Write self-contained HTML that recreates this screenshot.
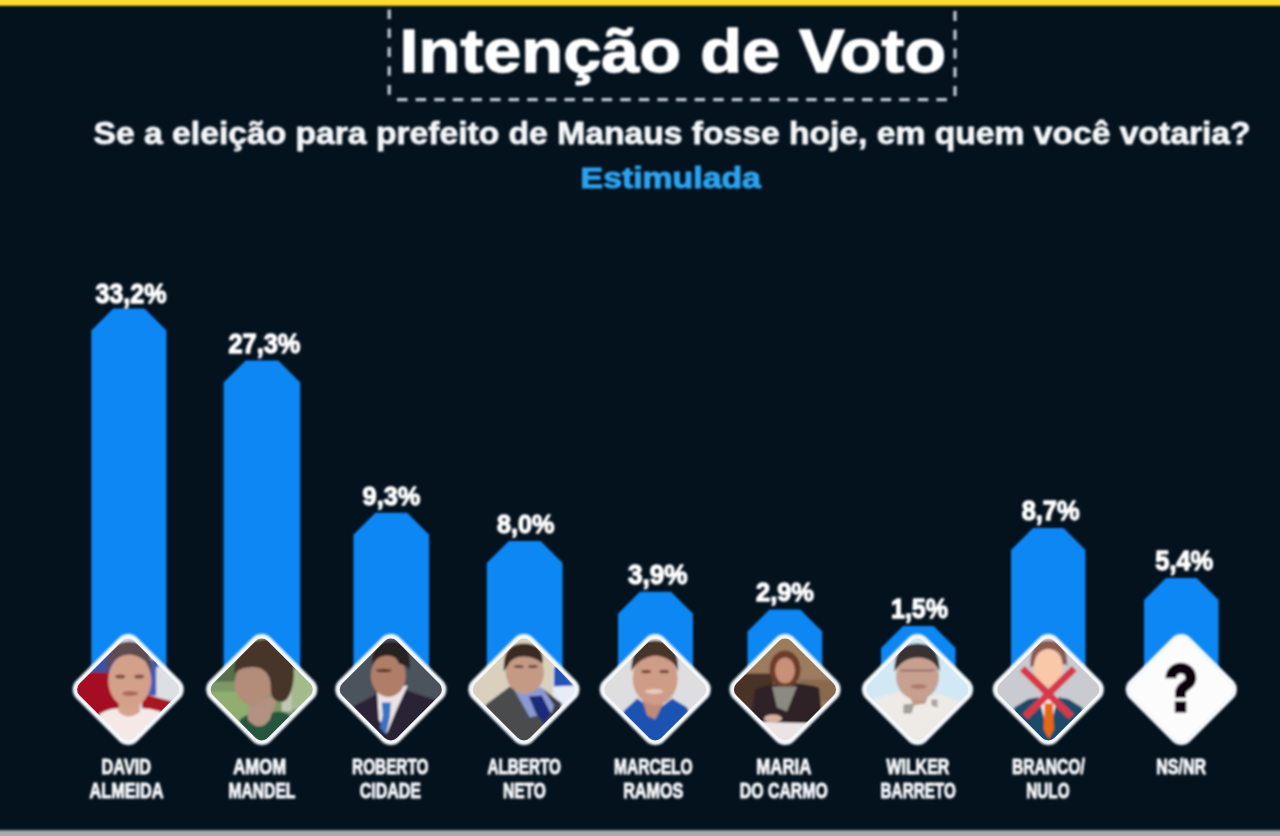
<!DOCTYPE html>
<html><head><meta charset="utf-8"><title>Intenção de Voto</title>
<style>
html,body{margin:0;padding:0;background:#04121e;}
body{width:1280px;height:836px;overflow:hidden;font-family:"Liberation Sans",sans-serif;}
svg{display:block}
text{font-family:"Liberation Sans",sans-serif;font-weight:bold}
</style></head><body>
<svg width="1280" height="836" viewBox="0 0 1280 836">
<defs>
<filter id="soft" x="-5%" y="-5%" width="110%" height="110%"><feGaussianBlur stdDeviation="0.85"/></filter>
<filter id="ph" x="-10%" y="-10%" width="120%" height="120%"><feGaussianBlur stdDeviation="1.3"/></filter>
<clipPath id="dia"><rect x="-38.6" y="-38.6" width="77.2" height="77.2" rx="8.5" transform="rotate(45)"/></clipPath>
</defs>
<rect width="1280" height="836" fill="#04121e"/>
<g filter="url(#soft)">

<rect x="-20" y="-20" width="1320" height="25.8" fill="#fadb2e"/>
<rect x="-20" y="830.2" width="1320" height="30" fill="#a9aaad"/>
<g fill="none" stroke="#c3cbd3" stroke-width="3.2"><path d="M389.2 9.5 V96" stroke-dasharray="9.6 9.3"/><path d="M955 11 V97.5" stroke-dasharray="10 8.75"/><path d="M397 99.7 H947" stroke-dasharray="10.5 8.1"/></g>
<text x="399.6" y="71.8" font-size="60.4" fill="#fff" stroke="#fff" stroke-width="1.3" stroke-linejoin="round" textLength="546.5" lengthAdjust="spacingAndGlyphs">Intenção de Voto</text>
<text x="93.6" y="144" font-size="32" fill="#f4f6f8" stroke="#f4f6f8" stroke-width="0.9" stroke-linejoin="round" textLength="1157" lengthAdjust="spacingAndGlyphs">Se a eleição para prefeito de Manaus fosse hoje, em quem você votaria?</text>
<text x="580.6" y="187.7" font-size="30.4" fill="#2ba3ef" stroke="#2ba3ef" stroke-width="1.1" stroke-linejoin="round" textLength="180.3" lengthAdjust="spacingAndGlyphs">Estimulada</text>
<path d="M91.3 700 V330.6 L113.3 308.6 H144.5 L166.5 330.6 V700 Z" fill="#0b87f4"/>
<text x="95.4" y="302.5" font-size="27.6" fill="#fff" stroke="#fff" stroke-width="1.3" stroke-linejoin="round" textLength="71.1" lengthAdjust="spacingAndGlyphs">33,2%</text>
<path d="M223.6 700 V382.4 L245.6 360.4 H278.2 L300.2 382.4 V700 Z" fill="#0b87f4"/>
<text x="228.4" y="353.4" font-size="27.0" fill="#fff" stroke="#fff" stroke-width="1.3" stroke-linejoin="round" textLength="72.0" lengthAdjust="spacingAndGlyphs">27,3%</text>
<path d="M353.4 700 V534.7 L375.4 512.7 H407.1 L429.1 534.7 V700 Z" fill="#0b87f4"/>
<text x="362.5" y="505.1" font-size="26.6" fill="#fff" stroke="#fff" stroke-width="1.3" stroke-linejoin="round" textLength="57.9" lengthAdjust="spacingAndGlyphs">9,3%</text>
<path d="M486.8 700 V563.0 L508.8 541.0 H540.6 L562.6 563.0 V700 Z" fill="#0b87f4"/>
<text x="497.0" y="533.2" font-size="26.6" fill="#fff" stroke="#fff" stroke-width="1.3" stroke-linejoin="round" textLength="57.5" lengthAdjust="spacingAndGlyphs">8,0%</text>
<path d="M618.0 700 V613.8 L640.0 591.8 H671.0 L693.0 613.8 V700 Z" fill="#0b87f4"/>
<text x="628.0" y="584.2" font-size="26.8" fill="#fff" stroke="#fff" stroke-width="1.3" stroke-linejoin="round" textLength="59.5" lengthAdjust="spacingAndGlyphs">3,9%</text>
<path d="M747.5 700 V631.5 L769.5 609.5 H800.2 L822.2 631.5 V700 Z" fill="#0b87f4"/>
<text x="756.0" y="600.6" font-size="26.6" fill="#fff" stroke="#fff" stroke-width="1.3" stroke-linejoin="round" textLength="58.0" lengthAdjust="spacingAndGlyphs">2,9%</text>
<path d="M881.0 700 V648.0 L903.0 626.0 H933.6 L955.6 648.0 V700 Z" fill="#0b87f4"/>
<text x="891.0" y="617.9" font-size="26.8" fill="#fff" stroke="#fff" stroke-width="1.3" stroke-linejoin="round" textLength="57.0" lengthAdjust="spacingAndGlyphs">1,5%</text>
<path d="M1011.0 700 V550.0 L1033.0 528.0 H1063.5 L1085.5 550.0 V700 Z" fill="#0b87f4"/>
<text x="1021.7" y="520.1" font-size="26.8" fill="#fff" stroke="#fff" stroke-width="1.3" stroke-linejoin="round" textLength="57.9" lengthAdjust="spacingAndGlyphs">8,7%</text>
<path d="M1144.0 700 V600.0 L1166.0 578.0 H1196.6 L1218.6 600.0 V700 Z" fill="#0b87f4"/>
<text x="1155.3" y="570.1" font-size="26.8" fill="#fff" stroke="#fff" stroke-width="1.3" stroke-linejoin="round" textLength="57.9" lengthAdjust="spacingAndGlyphs">5,4%</text>
<text x="101.6" y="773.8" font-size="22.2" fill="#f5f7f9" stroke="#f5f7f9" stroke-width="1.1" stroke-linejoin="round" textLength="49.4" lengthAdjust="spacingAndGlyphs">DAVID</text>
<text x="89.5" y="797.7" font-size="22.2" fill="#f5f7f9" stroke="#f5f7f9" stroke-width="1.1" stroke-linejoin="round" textLength="74.1" lengthAdjust="spacingAndGlyphs">ALMEIDA</text>
<text x="233.2" y="773.8" font-size="22.2" fill="#f5f7f9" stroke="#f5f7f9" stroke-width="1.1" stroke-linejoin="round" textLength="52.9" lengthAdjust="spacingAndGlyphs">AMOM</text>
<text x="228.4" y="797.7" font-size="22.2" fill="#f5f7f9" stroke="#f5f7f9" stroke-width="1.1" stroke-linejoin="round" textLength="67.0" lengthAdjust="spacingAndGlyphs">MANDEL</text>
<text x="352.1" y="773.8" font-size="22.2" fill="#f5f7f9" stroke="#f5f7f9" stroke-width="1.1" stroke-linejoin="round" textLength="76.3" lengthAdjust="spacingAndGlyphs">ROBERTO</text>
<text x="359.7" y="797.7" font-size="22.2" fill="#f5f7f9" stroke="#f5f7f9" stroke-width="1.1" stroke-linejoin="round" textLength="61.2" lengthAdjust="spacingAndGlyphs">CIDADE</text>
<text x="487.4" y="773.8" font-size="22.2" fill="#f5f7f9" stroke="#f5f7f9" stroke-width="1.1" stroke-linejoin="round" textLength="73.6" lengthAdjust="spacingAndGlyphs">ALBERTO</text>
<text x="503.0" y="797.7" font-size="22.2" fill="#f5f7f9" stroke="#f5f7f9" stroke-width="1.1" stroke-linejoin="round" textLength="42.9" lengthAdjust="spacingAndGlyphs">NETO</text>
<text x="614.0" y="773.8" font-size="22.2" fill="#f5f7f9" stroke="#f5f7f9" stroke-width="1.1" stroke-linejoin="round" textLength="78.7" lengthAdjust="spacingAndGlyphs">MARCELO</text>
<text x="623.2" y="797.7" font-size="22.2" fill="#f5f7f9" stroke="#f5f7f9" stroke-width="1.1" stroke-linejoin="round" textLength="60.2" lengthAdjust="spacingAndGlyphs">RAMOS</text>
<text x="756.3" y="773.8" font-size="22.2" fill="#f5f7f9" stroke="#f5f7f9" stroke-width="1.1" stroke-linejoin="round" textLength="55.0" lengthAdjust="spacingAndGlyphs">MARIA</text>
<text x="739.8" y="797.7" font-size="22.2" fill="#f5f7f9" stroke="#f5f7f9" stroke-width="1.1" stroke-linejoin="round" textLength="88.0" lengthAdjust="spacingAndGlyphs">DO CARMO</text>
<text x="886.4" y="773.8" font-size="22.2" fill="#f5f7f9" stroke="#f5f7f9" stroke-width="1.1" stroke-linejoin="round" textLength="62.9" lengthAdjust="spacingAndGlyphs">WILKER</text>
<text x="880.6" y="797.7" font-size="22.2" fill="#f5f7f9" stroke="#f5f7f9" stroke-width="1.1" stroke-linejoin="round" textLength="75.2" lengthAdjust="spacingAndGlyphs">BARRETO</text>
<text x="1011.9" y="773.8" font-size="22.2" fill="#f5f7f9" stroke="#f5f7f9" stroke-width="1.1" stroke-linejoin="round" textLength="72.9" lengthAdjust="spacingAndGlyphs">BRANCO/</text>
<text x="1026.3" y="797.7" font-size="22.2" fill="#f5f7f9" stroke="#f5f7f9" stroke-width="1.1" stroke-linejoin="round" textLength="43.3" lengthAdjust="spacingAndGlyphs">NULO</text>
<text x="1156.3" y="773.8" font-size="22.2" fill="#f5f7f9" stroke="#f5f7f9" stroke-width="1.1" stroke-linejoin="round" textLength="49.8" lengthAdjust="spacingAndGlyphs">NS/NR</text>
</g>
<g transform="translate(128.2 689.5)">
<rect x="-43" y="-43" width="86" height="86" rx="12.5" transform="rotate(45)" fill="#f4f8fb" filter="url(#soft)"/>
<g clip-path="url(#dia)"><g filter="url(#ph)"><rect x="-60" y="-60" width="120" height="120" fill="#cfd6e2"/>
<rect x="-60" y="-40" width="60" height="26" fill="#3c4fa6"/>
<rect x="-60" y="-17" width="60" height="45" fill="#a40f20"/>
<rect x="18" y="-30" width="12" height="36" fill="#4a5cb4"/>
<rect x="28" y="-22" width="30" height="32" fill="#dcdfe4"/>
<path d="M14 4 L44 12 L44 24 L14 24Z" fill="#a81424"/>
<path d="M-40 60 L-28 24 Q-14 16 0 20 Q16 16 32 22 L44 60Z" fill="#f5e9e8"/>
<path d="M-9 8 L-10 22 Q0 32 12 22 L11 8Z" fill="#d6a48e"/>
<ellipse cx="1.5" cy="-9" rx="21.5" ry="27" fill="#d3a08a"/>
<path d="M-22 -14 Q-24 -47 1 -48 Q26 -47 24 -14 Q20 -33 1 -35 Q-18 -33 -22 -14Z" fill="#5e4c50"/>
<ellipse cx="-8" cy="-13" rx="5" ry="2" fill="#7a5246"/><ellipse cx="11" cy="-13" rx="5" ry="2" fill="#7a5246"/>
<ellipse cx="2" cy="4" rx="8" ry="2.4" fill="#a86a5e"/></g></g>
</g>
<g transform="translate(261.7 689.5)">
<rect x="-43" y="-43" width="86" height="86" rx="12.5" transform="rotate(45)" fill="#f4f8fb" filter="url(#soft)"/>
<g clip-path="url(#dia)"><g filter="url(#ph)"><rect x="-60" y="-60" width="120" height="120" fill="#7d9866"/>
<rect x="-60" y="-30" width="50" height="22" fill="#54704c"/>
<rect x="-60" y="2" width="60" height="30" fill="#8fae70"/>
<rect x="24" y="-20" width="40" height="40" fill="#a3ba8a"/>
<rect x="20" y="-6" width="10" height="28" fill="#c2c6b2"/>
<path d="M-24 60 L-22 30 Q-8 20 4 26 Q18 18 28 26 L36 60Z" fill="#28573e"/>
<path d="M-12 8 L-14 30 Q-2 44 8 30 L16 8Z" fill="#b39282"/>
<ellipse cx="-8" cy="-6" rx="19" ry="22" fill="#b38c7a"/>
<path d="M-28 -16 Q-26 -50 6 -50 Q34 -46 32 -12 Q30 8 22 12 Q10 14 9 0 Q10 -18 -4 -22 Q-18 -24 -28 -16Z" fill="#46362c"/></g></g>
</g>
<g transform="translate(390.8 689.5)">
<rect x="-43" y="-43" width="86" height="86" rx="12.5" transform="rotate(45)" fill="#f4f8fb" filter="url(#soft)"/>
<g clip-path="url(#dia)"><g filter="url(#ph)"><rect x="-60" y="-60" width="120" height="120" fill="#4c535d"/>
<path d="M-50 60 L-36 16 Q-20 8 -10 2 L14 0 Q30 6 44 10 L56 60Z" fill="#2a2236"/>
<path d="M-14 -2 L-12 30 L-4 44 L6 20 L17 -4Z" fill="#ebe3e4"/>
<path d="M-9 13 L0 13 L-1 28 L-5 45 L-11 38 L-8 26Z" fill="#3b72c2"/>
<ellipse cx="-2.5" cy="-14" rx="17.5" ry="21.5" fill="#b07e68"/>
<path d="M-19 -24 Q-19 -49 2 -48 Q21 -46 19 -20 Q16 -24 8 -26 Q6 -34 -4 -34 Q-14 -34 -19 -24Z" fill="#262024"/>
<ellipse cx="-7" cy="-19" rx="8" ry="1.8" fill="#5a3a30"/></g></g>
</g>
<g transform="translate(523.9 689.5)">
<rect x="-43" y="-43" width="86" height="86" rx="12.5" transform="rotate(45)" fill="#f4f8fb" filter="url(#soft)"/>
<g clip-path="url(#dia)"><g filter="url(#ph)"><rect x="-60" y="-60" width="120" height="120" fill="#d9d1bd"/>
<rect x="29" y="-24" width="40" height="50" fill="#e8ecf4"/>
<path d="M30 -22 L34 -24 L50 -4 L30 -3Z" fill="#2253b8"/>
<path d="M-50 60 L-38 15 L-14 -3 L0 4 L22 2 L36 15 L50 60Z" fill="#494b4e"/>
<path d="M-11 -2 L6 28 L30 22 L32 12 L18 -2Z" fill="#8c9ad2"/>
<path d="M5 7 L18 6 L27 24 L20 34 L12 24Z" fill="#1f2b7a"/><path d="M20 0 L38 14 L34 34 L26 30 L30 16Z" fill="#3c3e44"/>
<ellipse cx="1" cy="-17" rx="19" ry="21.5" fill="#c49a84"/>
<path d="M-20 -18 Q-22 -46 0 -46 Q20 -46 19 -26 Q10 -33 0 -33 Q-12 -33 -16 -24Z" fill="#3a2a22"/>
<ellipse cx="-5" cy="-23" rx="5" ry="1.6" fill="#6a4638"/><ellipse cx="9" cy="-23" rx="5" ry="1.6" fill="#6a4638"/></g></g>
</g>
<g transform="translate(655.2 689.5)">
<rect x="-43" y="-43" width="86" height="86" rx="12.5" transform="rotate(45)" fill="#f4f8fb" filter="url(#soft)"/>
<g clip-path="url(#dia)"><g filter="url(#ph)"><rect x="-60" y="-60" width="120" height="120" fill="#dedee0"/>
<path d="M-46 60 L-31 21 L-18 9 L0 22 L17 9 L32 18 L46 60Z" fill="#1e52b2"/>
<path d="M-13 10 L-8 26 L0 30 L9 12Z" fill="#c08a78"/>
<ellipse cx="0" cy="-11" rx="22.5" ry="26.5" fill="#cf9c88"/>
<path d="M-24 -18 Q-24 -49 0 -49 Q24 -49 23 -18 Q18 -32 0 -34 Q-16 -32 -24 -18Z" fill="#46342c"/>
<ellipse cx="-9" cy="-18" rx="5" ry="1.8" fill="#74483c"/><ellipse cx="9" cy="-18" rx="5" ry="1.8" fill="#74483c"/>
<ellipse cx="-1" cy="2" rx="9" ry="2.6" fill="#e8c8c0"/></g></g>
</g>
<g transform="translate(785.0 689.5)">
<rect x="-43" y="-43" width="86" height="86" rx="12.5" transform="rotate(45)" fill="#f4f8fb" filter="url(#soft)"/>
<g clip-path="url(#dia)"><g filter="url(#ph)"><rect x="-60" y="-60" width="120" height="120" fill="#9c7c5e"/>
<rect x="-60" y="-16" width="48" height="50" fill="#4a3028"/>
<rect x="14" y="-10" width="50" height="22" fill="#8a6a50"/>
<rect x="-60" y="30" width="120" height="40" fill="#ece4e4"/>
<path d="M-34 32 L-30 0 Q0 -12 34 -2 L38 34Z" fill="#2e2426"/>
<ellipse cx="0" cy="-20" rx="15.5" ry="19" fill="#6c3c2a"/>
<path d="M-13 -3 L-8 18 L2 22 L12 -3Z" fill="#8c8882"/>
<ellipse cx="0" cy="-19" rx="10" ry="13" fill="#c89078"/>
<ellipse cx="-12" cy="29" rx="9" ry="4" fill="#d8b0a0"/></g></g>
</g>
<g transform="translate(917.5 689.5)">
<rect x="-43" y="-43" width="86" height="86" rx="12.5" transform="rotate(45)" fill="#f4f8fb" filter="url(#soft)"/>
<g clip-path="url(#dia)"><g filter="url(#ph)"><rect x="-60" y="-60" width="120" height="120" fill="#d2e9f5"/>
<path d="M-56 60 L-43 9 L-18 2 L0 10 L20 4 L42 12 L56 60Z" fill="#eeeae6"/>
<path d="M-14 15 L-3 14 L-6 24 L-14 24Z" fill="#a09e96"/>
<path d="M14 10 L20 10 L20 18 L14 16Z" fill="#a8a49c"/>
<path d="M-10 2 L-4 16 L8 14 L12 2Z" fill="#c39886"/>
<ellipse cx="0" cy="-13" rx="21.5" ry="23.5" fill="#c8a090"/>
<path d="M-23 -18 Q-24 -46 0 -46 Q23 -46 22 -18 Q16 -32 0 -32 Q-14 -32 -23 -18Z" fill="#383030"/>
<path d="M-17 -19 H17" stroke="#94726a" stroke-width="2.2"/>
<ellipse cx="1" cy="-3" rx="8" ry="2.4" fill="#b07a70"/></g></g>
</g>
<g transform="translate(1048.3 689.5)">
<rect x="-43" y="-43" width="86" height="86" rx="12.5" transform="rotate(45)" fill="#f4f8fb" filter="url(#soft)"/>
<g clip-path="url(#dia)"><g filter="url(#ph)"><rect x="-60" y="-60" width="120" height="120" fill="#c9cbd0"/>
<path d="M-40 60 L-34 18 L-20 9.5 L0 6 L20 9.5 L34 18 L40 60Z" fill="#1f4b6b"/>
<path d="M-10 7 L0 44 L10 7Z" fill="#f0eeee"/>
<path d="M-3.5 14 L4.5 14 L5.5 40 L0.5 49 L-4.5 40Z" fill="#e8680c"/>
<path d="M-18 -22 Q-19 -49 0 -49 Q20 -49 19 -22 Q18 -28 14 -24 Q14 -40 0 -40 Q-13 -40 -14 -24Z" fill="#8a5a50"/>
<ellipse cx="0" cy="-22" rx="14.5" ry="18.5" fill="#f8c8a8"/>
<path d="M-26 -21 L23 27 M26 -21 L-23 27" stroke="#d8384a" stroke-width="7.2" fill="none"/></g></g>
</g>
<g transform="translate(1181.3 689.5)">
<rect x="-43" y="-43" width="86" height="86" rx="12.5" transform="rotate(45)" fill="#f4f8fb" filter="url(#soft)"/>
<g clip-path="url(#dia)"><g filter="url(#ph)"><rect x="-60" y="-60" width="120" height="120" fill="#fcfcfc"/>
<path d="M-10.4 -11.2 A10 10.2 0 0 1 9.6 -11.2 C9.6 -3.5 -0.75 -4.5 -0.75 3.5 V8.2" fill="none" stroke="#07060c" stroke-width="10.8"/><rect x="-6.5" y="11.8" width="11.5" height="11.3" fill="#07060c"/></g></g>
</g>
</svg></body></html>
